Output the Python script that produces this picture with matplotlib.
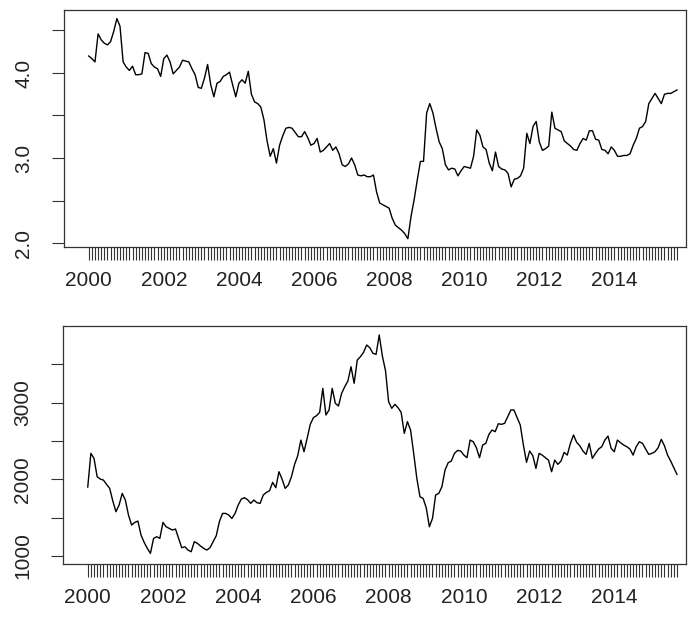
import numpy as np
import matplotlib
matplotlib.use("Agg")
import matplotlib.pyplot as plt

plt.rcParams['font.family'] = ['Liberation Sans', 'DejaVu Sans']

# monthly series, Jan 2000 .. Sep 2015
start_year = 2000
rate = [
    4.20, 4.17, 4.13, 4.46, 4.39, 4.35, 4.33, 4.37, 4.49, 4.64, 4.55, 4.13,
    4.07, 4.03, 4.08, 3.98, 3.98, 3.99, 4.24, 4.23, 4.11, 4.07, 4.05, 3.96,
    4.17, 4.21, 4.13, 3.99, 4.03, 4.07, 4.15, 4.14, 4.13, 4.05, 3.98, 3.83,
    3.82, 3.94, 4.10, 3.86, 3.72, 3.88, 3.90, 3.96, 3.98, 4.01, 3.86, 3.72,
    3.88, 3.92, 3.88, 4.02, 3.75, 3.66, 3.64, 3.60, 3.45, 3.20, 3.02, 3.11,
    2.94, 3.15, 3.26, 3.35, 3.36, 3.35, 3.30, 3.25, 3.25, 3.31, 3.24, 3.15,
    3.17, 3.23, 3.07, 3.09, 3.13, 3.17, 3.09, 3.13, 3.05, 2.92, 2.90, 2.93,
    3.00, 2.92, 2.80, 2.79, 2.80, 2.78, 2.78, 2.80, 2.60, 2.47, 2.45, 2.43,
    2.41, 2.29, 2.21, 2.18, 2.15, 2.11, 2.05, 2.31, 2.51, 2.74, 2.96, 2.96,
    3.53, 3.64, 3.53, 3.35, 3.19, 3.11, 2.92, 2.86, 2.88, 2.87, 2.79, 2.85,
    2.90, 2.89, 2.88, 3.02, 3.33, 3.27, 3.13, 3.10, 2.94, 2.85, 3.07, 2.90,
    2.87, 2.86, 2.82, 2.66, 2.75, 2.76, 2.79, 2.88, 3.29, 3.17, 3.37, 3.43,
    3.19, 3.09, 3.11, 3.14, 3.54, 3.35, 3.33, 3.31, 3.20, 3.17, 3.14, 3.10,
    3.09, 3.17, 3.23, 3.21, 3.32, 3.32, 3.22, 3.21, 3.10, 3.09, 3.05, 3.13,
    3.09, 3.02, 3.02, 3.03, 3.03, 3.05, 3.15, 3.23, 3.35, 3.37, 3.43, 3.64,
    3.70, 3.76, 3.70, 3.64, 3.75, 3.76, 3.76, 3.78, 3.80,
]
index = [
    1900, 2340, 2274, 2035, 2004, 1991, 1935, 1883, 1717, 1578, 1665, 1817,
    1730, 1534, 1404, 1439, 1456, 1273, 1178, 1100, 1034, 1230, 1252, 1230,
    1439, 1382, 1360, 1339, 1352, 1230, 1108, 1121, 1078, 1056, 1187, 1165,
    1130, 1100, 1078, 1108, 1187, 1265, 1448, 1556, 1556, 1534, 1490, 1556,
    1665, 1743, 1761, 1735, 1687, 1730, 1695, 1687, 1796, 1830, 1852, 1961,
    1891, 2100, 2004, 1883, 1926, 2035, 2196, 2309, 2513, 2361, 2535, 2718,
    2805, 2831, 2874, 3188, 2840, 2905, 3188, 2992, 2957, 3122, 3209, 3283,
    3470, 3253, 3557, 3601, 3657, 3753, 3718, 3644, 3631, 3884, 3610, 3420,
    3013, 2927, 2979, 2935, 2874, 2600, 2753, 2644, 2339, 2013, 1774, 1752,
    1630, 1382, 1491, 1796, 1817, 1904, 2122, 2217, 2239, 2339, 2378, 2370,
    2317, 2283, 2513, 2491, 2413, 2283, 2448, 2470, 2587, 2644, 2622, 2726,
    2718, 2731, 2818, 2905, 2905, 2805, 2709, 2448, 2222, 2370, 2310, 2143,
    2339, 2317, 2283, 2252, 2100, 2252, 2196, 2239, 2352, 2317, 2470, 2579,
    2483, 2439, 2370, 2326, 2470, 2274, 2339, 2396, 2426, 2513, 2565, 2405,
    2361, 2513, 2478, 2448, 2426, 2396, 2317, 2426, 2491, 2470, 2396, 2326,
    2339, 2361, 2413, 2522, 2439, 2317, 2239, 2152, 2065,
]
year_labels = [2000, 2002, 2004, 2006, 2008, 2010, 2012, 2014]
rate_ticks = [2.0, 2.5, 3.0, 3.5, 4.0, 4.5]
rate_labels = ["2.0", "", "3.0", "", "4.0", ""]
index_ticks = [1000, 1500, 2000, 2500, 3000, 3500]
index_labels = ["1000", "", "2000", "", "3000", ""]

t = start_year + np.arange(len(rate)) / 12.0

W, H = 688, 621
fig = plt.figure(figsize=(W / 100, H / 100), dpi=100)
ax1 = fig.add_axes([64 / W, 1 - 247 / H, 622 / W, 237 / H])
ax2 = fig.add_axes([63 / W, 1 - 564 / H, 623 / W, 238 / H])

txt = '#222222'

def style(ax, y, yticks, ylabels, ylim):
    ax.plot(t, y, color='black', lw=1.0)
    ax.set_xlim(1999.342, 2015.907)
    ax.set_ylim(*ylim)
    ax.set_xticks(year_labels)
    ax.set_xticklabels([str(v) for v in year_labels])
    ax.set_xticks(t, minor=True)
    ax.tick_params(axis='x', which='both', length=9.5, width=0.8, color='#333333',
                   labelsize=15, labelcolor=txt, pad=8)
    ax.set_yticks(yticks)
    ax.set_yticklabels(ylabels, rotation=90, va='center')
    ax.tick_params(axis='y', length=9, width=0.8, color='#333333',
                   labelsize=15, labelcolor=txt, pad=13)
    for s in ax.spines.values():
        s.set_color('#333333')
        s.set_linewidth(0.9)

style(ax1, rate, rate_ticks, rate_labels, (1.953, 4.741))
style(ax2, index, index_ticks, index_labels, (896, 4001))

fig.savefig('out.png', dpi=100)
